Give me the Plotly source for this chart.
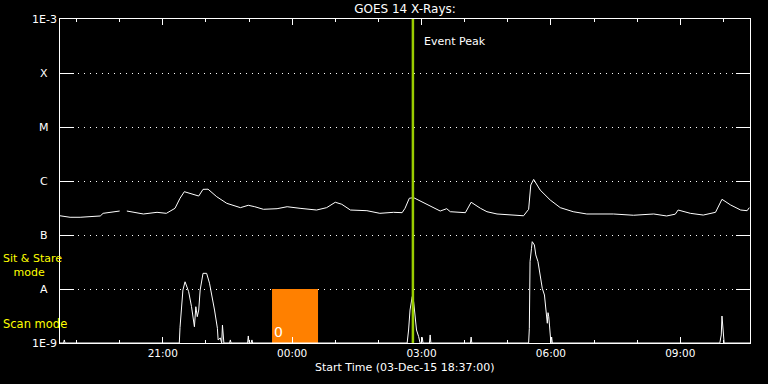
import math
import plotly.graph_objects as go

# ---------------- data ----------------
upper_times = ["18:37", "18:51", "19:05", "19:33", "19:37", "20:00", None, "20:10", "20:33", "20:52",
               "21:05", "21:17", "21:24", "21:30", "21:38", "21:50", "21:56", "22:03", "22:15", "22:29",
               "22:48", "22:59", "23:08", "23:20", "23:39", "23:53", "00:11", "00:34", "00:48", "01:00",
               "01:09", "01:21", "01:44", "02:02", "02:21", "02:33", "02:37", "02:43", "02:49", "03:03",
               "03:17", "03:26", "03:35", "03:40", "04:01", "04:09", "04:22", "04:31", "04:45", "05:22",
               "05:29", "05:32", "05:36", "05:45", "05:59", "06:13", "06:31", "06:50", "07:27", "07:55",
               "08:23", "08:41", "08:53", "08:57", "09:14", "09:32", "09:49", "09:58", "10:10", "10:24",
               "10:33", "10:36"]
upper_flux = [2.27e-7, 2.13e-7, 2.13e-7, 2.25e-7, 2.52e-7, 2.78e-7, None, 2.78e-7, 2.45e-7, 2.63e-7,
              2.52e-7, 3.12e-7, 4.79e-7, 6.34e-7, 5.92e-7, 5.27e-7, 7.01e-7, 7.05e-7, 5.12e-7, 3.86e-7,
              3.21e-7, 3.55e-7, 3.34e-7, 2.99e-7, 3.07e-7, 3.34e-7, 3.12e-7, 2.90e-7, 3.21e-7, 4.04e-7,
              3.71e-7, 2.90e-7, 2.82e-7, 2.52e-7, 2.63e-7, 2.59e-7, 3.12e-7, 4.79e-7, 4.91e-7, 3.96e-7,
              3.12e-7, 2.78e-7, 3.07e-7, 2.70e-7, 2.59e-7, 4.04e-7, 3.12e-7, 2.70e-7, 2.45e-7, 2.27e-7,
              2.99e-7, 8.43e-7, 1.07e-6, 6.81e-7, 4.45e-7, 3.21e-7, 2.70e-7, 2.45e-7, 2.45e-7, 2.32e-7,
              2.45e-7, 2.25e-7, 2.43e-7, 2.90e-7, 2.52e-7, 2.34e-7, 2.63e-7, 4.58e-7, 3.60e-7, 2.90e-7,
              2.82e-7, 3.21e-7]

lower_times = ["18:37", "18:42", "18:43", "18:44", "21:23", "21:24", "21:28", "21:31", "21:36", "21:40",
               "21:44", "21:46", "21:48", "21:50", "21:52", "21:56", "22:01", "22:05", "22:12", "22:16",
               "22:17", "22:20", "22:22", "22:23", "22:25", "22:33", "22:34", "22:35", "22:58", "22:59",
               "23:00", "23:03", "23:04", "23:05", "02:40", "02:42", "02:44", "02:47", "02:49", "02:51",
               "02:53", "02:56", "02:58", "03:00", "03:01", "03:02", "03:11", "03:12", "03:13", "04:08",
               "04:09", "04:10", "05:29", "05:30", "05:31", "05:33", "05:34", "05:37", "05:39", "05:42",
               "05:45", "05:48", "05:51", "05:53", "05:55", "05:56", "05:57", "05:58", "05:59", "06:00",
               "06:01", "06:02", "09:55", "09:57", "09:58", "09:59", "10:00", "10:01", "10:37"]
lower_flux = [1e-9, 1e-9, 1.14e-9, 1e-9, 1e-9, 1.95e-9, 9.57e-9, 1.36e-8, 8.91e-9, 4.70e-9,
              2.0e-9, 4.70e-9, 3.07e-9, 4.08e-9, 9.57e-9, 1.95e-8, 1.95e-8, 1.28e-8, 4.08e-9, 1.87e-9,
              1.14e-9, 1.24e-9, 1e-9, 2.15e-9, 1e-9, 1e-9, 1.14e-9, 1e-9, 1e-9, 1.35e-9,
              1e-9, 1e-9, 1.14e-9, 1e-9, 1e-9, 1.74e-9, 4.08e-9, 7.20e-9, 5.82e-9, 3.07e-9,
              1.74e-9, 1.31e-9, 1e-9, 1e-9, 1.27e-9, 1e-9, 1e-9, 1.41e-9, 1e-9, 1e-9,
              1.29e-9, 1e-9, 1e-9, 1.87e-9, 3.21e-8, 5.68e-8, 7.52e-8, 6.53e-8, 4.27e-8, 3.21e-8,
              1.82e-8, 1.03e-8, 7.74e-9, 3.80e-9, 2.32e-9, 3.64e-9, 3.07e-9, 2.15e-9, 1e-9, 1e-9,
              1.29e-9, 1e-9, 1e-9, 1.41e-9, 3.16e-9, 1.90e-9, 1.06e-9, 1e-9, 1e-9]

x_tick_times = ["21:00", "00:00", "03:00", "06:00", "09:00"]
y_tick_vals = [1e-9, 1e-8, 1e-7, 1e-6, 1e-5, 1e-4, 1e-3]
y_tick_text = ["1E-9", "A", "B", "C", "M", "X", "1E-3"]

start_time = "18:37"
end_time = "10:37"
event_peak_time = "02:48"
scan_start, scan_end = "23:32", "00:36"
scan_level = 1e-8


def ts(t):
    if t is None:
        return None
    day = "2015-12-03" if int(t[:2]) >= 18 else "2015-12-04"
    return f"{day} {t}"


FONT = "DejaVu Sans"
WHITE = "#ffffff"
YELLOW = "#ffff00"

fig = go.Figure()
fig.add_trace(go.Scatter(x=[ts(t) for t in upper_times], y=upper_flux, mode="lines",
                         line=dict(color=WHITE, width=1), connectgaps=False, hoverinfo="skip"))
fig.add_trace(go.Scatter(x=[ts(t) for t in lower_times], y=lower_flux, mode="lines",
                         line=dict(color=WHITE, width=1), hoverinfo="skip", cliponaxis=False))

# scan-mode block
fig.add_shape(type="rect", xref="x", yref="y", x0=ts(scan_start), x1=ts(scan_end),
              y0=1e-9, y1=scan_level, fillcolor="#ff8000", line=dict(width=0), layer="between")
# event peak line
fig.add_shape(type="line", xref="x", yref="paper", x0=ts(event_peak_time), x1=ts(event_peak_time),
              y0=0, y1=1, line=dict(color="#99cc00", width=2.5), layer="above")

ann = []
for v, txt in zip(y_tick_vals, y_tick_text):
    ann.append(dict(x=-16 / 690, xref="paper", y=math.log10(v), yref="y", text=txt, showarrow=False,
                    xanchor="center", yanchor="middle", font=dict(color=WHITE, size=11, family=FONT)))
ann += [
    dict(x=ts(event_peak_time), xref="x", y=(343 - 42) / 324, yref="paper", text="Event Peak",
         showarrow=False, xanchor="left", yanchor="middle", xshift=9,
         font=dict(color=WHITE, size=11, family=FONT)),
    dict(x=ts(scan_start), xref="x", y=(343 - 332) / 324, yref="paper", text="0", showarrow=False,
         xanchor="left", yanchor="middle", xshift=0, font=dict(color=WHITE, size=14, family=FONT)),
    dict(x=-59 / 690, xref="paper", y=(343 - 265) / 324, yref="paper",
         text="Sit & Stare<br>&nbsp;&nbsp;&nbsp;mode", align="left",
         showarrow=False, xanchor="left", yanchor="middle", font=dict(color=YELLOW, size=11, family=FONT)),
    dict(x=-59 / 690, xref="paper", y=(343 - 324) / 324, yref="paper", text="Scan mode",
         showarrow=False, xanchor="left", yanchor="middle", font=dict(color=YELLOW, size=11.5, family=FONT)),
    dict(x=0.5, xref="paper", y=(343 - 368) / 324, yref="paper", text="Start Time (03-Dec-15 18:37:00)",
         showarrow=False, xanchor="center", yanchor="middle", font=dict(color=WHITE, size=11, family=FONT)),
]

fig.update_layout(
    width=768, height=384,
    margin=dict(l=60, r=18, t=19, b=41),
    paper_bgcolor="black", plot_bgcolor="black",
    showlegend=False,
    title=dict(text="GOES 14 X-Rays:", x=405 / 768, xanchor="center", y=1 - 9 / 384, yanchor="middle",
               yref="container", font=dict(color=WHITE, size=12, family=FONT)),
    annotations=ann,
    font=dict(family=FONT, color=WHITE),
)
fig.update_xaxes(
    type="date", range=[ts(start_time), ts(end_time)],
    tickvals=[ts(t) for t in x_tick_times], ticktext=x_tick_times,
    ticks="inside", ticklen=6, tickcolor=WHITE, tickwidth=1,
    showline=True, linecolor=WHITE, linewidth=1, mirror="allticks",
    showgrid=False, zeroline=False,
    tickfont=dict(color=WHITE, size=10.5, family=FONT),
    minor=dict(ticks="inside", ticklen=3, dtick=3600000, tickcolor=WHITE, showgrid=False),
)
fig.update_yaxes(
    type="log", range=[-9, -3],
    tickvals=y_tick_vals, showticklabels=False,
    ticks="inside", ticklen=14, tickcolor=WHITE, tickwidth=1,
    showline=True, linecolor=WHITE, linewidth=1, mirror="allticks",
    showgrid=True, gridcolor=WHITE, gridwidth=1, griddash="1px,5px", zeroline=False,
)

fig.write_html("out.html", config={"displayModeBar": False},
               post_script="document.body.style.margin='0px';document.body.style.background='black';")
